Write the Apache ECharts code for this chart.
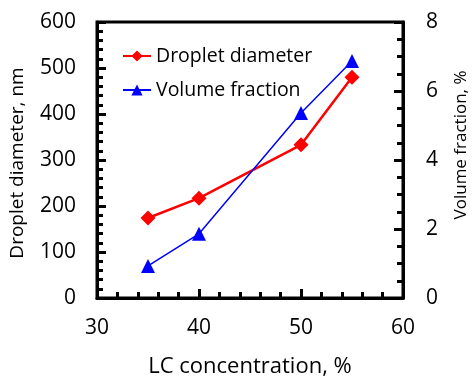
<!DOCTYPE html>
<html>
<head>
<meta charset="utf-8">
<script src="https://cdn.jsdelivr.net/npm/echarts@6/dist/echarts.min.js"></script>
<style>
  html, body { margin: 0; padding: 0; background: #fff; }
  #chart { width: 473px; height: 377px; }
</style>
</head>
<body>
<div id="chart"></div>
<script>
const lcConcentration = [35, 40, 50, 55]
const dropletDiameter = [174, 217, 333, 480]
const volumeFraction = [0.93, 1.86, 5.36, 6.87]

const font = '"Open Sans", "Noto Sans", sans-serif'

const chart = echarts.init(document.getElementById('chart'), null, { renderer: 'canvas' })

const tickStyle = { show: true, inside: true, length: 9, lineStyle: { color: '#000', width: 3 } }
const minorStyle = { show: true, length: 6, lineStyle: { color: '#000', width: 3 } }
const labelStyle = { color: '#000', fontSize: 21, fontFamily: font }

chart.setOption({
  animation: false,
  grid: {
    left: 97, right: 70, top: 22, bottom: 79,
    outerBoundsMode: 'none',
    show: true, borderColor: '#000', borderWidth: 3
  },
  legend: {
    left: 122, top: 46, padding: 0, orient: 'vertical', itemGap: 14,
    itemWidth: 28, itemHeight: 14,
    textStyle: { color: '#000', fontSize: 19.5, fontFamily: font },
    data: ['Droplet diameter', 'Volume fraction']
  },
  xAxis: {
    type: 'value', min: 30, max: 60, interval: 10,
    name: 'LC concentration, %', nameLocation: 'middle', nameGap: 58,
    nameTextStyle: { color: '#000', fontSize: 22, fontFamily: font },
    axisLine: { lineStyle: { color: '#000', width: 3 } },
    axisTick: tickStyle,
    minorTick: Object.assign({ splitNumber: 5 }, minorStyle),
    axisLabel: Object.assign({ margin: 20 }, labelStyle),
    splitLine: { show: false }
  },
  yAxis: [
    {
      type: 'value', min: 0, max: 600, interval: 100,
      name: 'Droplet diameter, nm', nameLocation: 'middle', nameGap: 70, nameRotate: 90,
      nameTextStyle: { color: '#000', fontSize: 19, fontFamily: font, padding: [0, 6, 0, 0] },
      axisLine: { show: true, lineStyle: { color: '#000', width: 3 } },
      axisTick: tickStyle,
      minorTick: Object.assign({ splitNumber: 5 }, minorStyle),
      axisLabel: Object.assign({ margin: 21 }, labelStyle),
      splitLine: { show: false }
    },
    {
      type: 'value', min: 0, max: 8, interval: 2, position: 'right',
      name: 'Volume fraction, %', nameLocation: 'middle', nameGap: 50, nameRotate: 90,
      nameTextStyle: { color: '#000', fontSize: 17, fontFamily: font, padding: [0, 0, 0, 30] },
      axisLine: { show: true, lineStyle: { color: '#000', width: 3 } },
      axisTick: tickStyle,
      minorTick: Object.assign({ splitNumber: 4 }, minorStyle),
      axisLabel: Object.assign({ margin: 23 }, labelStyle),
      splitLine: { show: false }
    }
  ],
  series: [
    {
      name: 'Droplet diameter', type: 'line', yAxisIndex: 0,
      data: lcConcentration.map((x, i) => [x, dropletDiameter[i]]),
      symbol: 'diamond', symbolSize: 15,
      itemStyle: { color: '#ff0000' },
      lineStyle: { color: '#ff0000', width: 2.5 }
    },
    {
      name: 'Volume fraction', type: 'line', yAxisIndex: 1,
      data: lcConcentration.map((x, i) => [x, volumeFraction[i]]),
      symbol: 'triangle', symbolSize: 14,
      itemStyle: { color: '#0000ff' },
      lineStyle: { color: '#0000ff', width: 1.5 }
    }
  ]
})

window.addEventListener('resize', () => chart.resize())
</script>
</body>
</html>
